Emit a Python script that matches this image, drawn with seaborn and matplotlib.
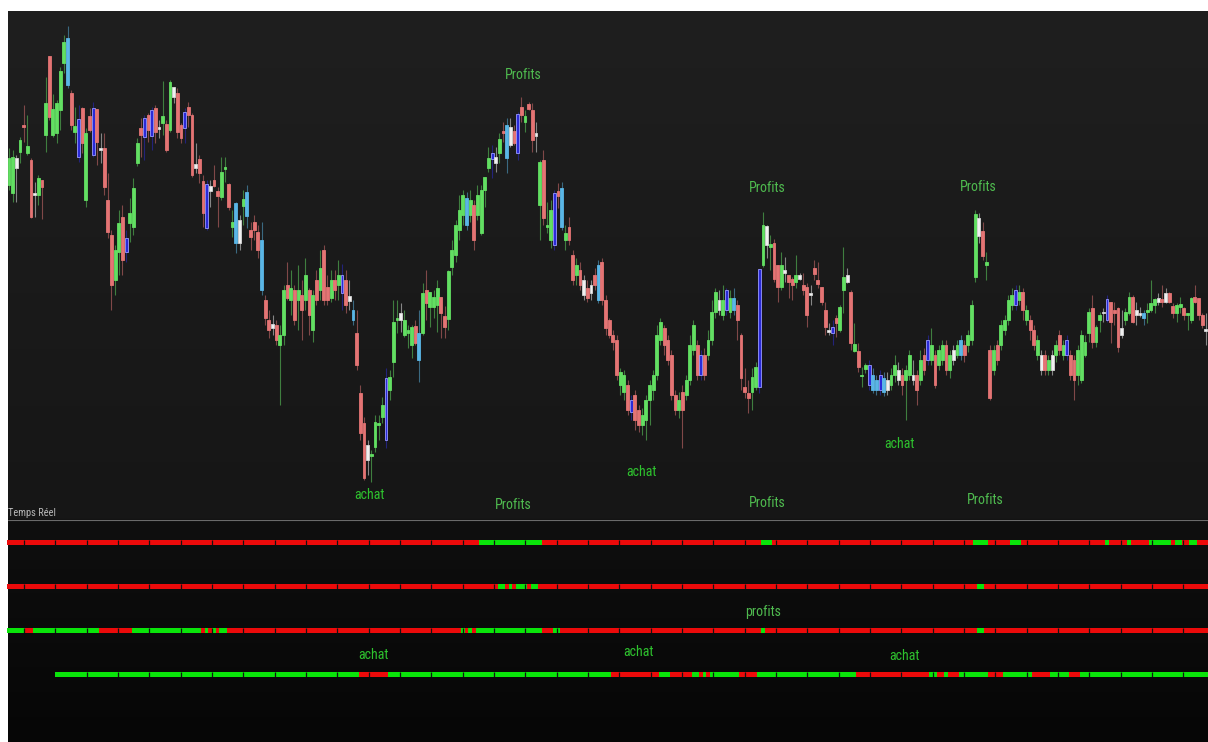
import numpy as np
import matplotlib
matplotlib.use("Agg")
import matplotlib.pyplot as plt
from matplotlib.colors import ListedColormap, to_rgb
from matplotlib.lines import Line2D
from matplotlib import font_manager
import seaborn as sns

# ---------------- data ----------------
opens = [
    335, 327, 362, 368, 395, 367, 360, 327, 325, 340,
    385, 464, 385, 387, 410, 457, 435, 427, 388, 363,
    412, 320, 404, 365, 411, 372, 372, 320, 285, 240,
    268, 303, 268, 297, 293, 357, 392, 383, 405, 384,
    412, 393, 397, 396, 390, 433, 427, 395, 392, 413,
    405, 356, 361, 339, 292, 334, 340, 329, 323, 351,
    336, 293, 277, 300, 314, 304, 290, 298, 288, 230,
    220, 200, 196, 195, 175, 185, 235, 220, 230, 220,
    225, 220, 230, 190, 240, 230, 270, 233, 222, 240,
    235, 227, 240, 224, 200, 187, 127, 97, 75, 64,
    73, 95, 103, 80, 130, 158, 200, 207, 185, 187,
    175, 194, 160, 187, 230, 213, 213, 215, 223, 204,
    201, 253, 265, 290, 305, 295, 305, 315, 305, 287,
    330, 352, 361, 363, 367, 389, 362, 393, 389, 367,
    413, 398, 416, 410, 387, 315, 360, 293, 280, 275,
    329, 293, 280, 293, 265, 245, 250, 240, 232, 235,
    245, 220, 258, 220, 200, 185, 180, 135, 128, 135,
    108, 125, 110, 95, 100, 120, 130, 145, 180, 192,
    180, 165, 125, 110, 128, 125, 140, 170, 175, 145,
    165, 165, 180, 208, 220, 205, 210, 208, 210, 215,
    185, 133, 127, 128, 133, 133, 255, 294, 273, 277,
    255, 233, 250, 245, 241, 238, 245, 235, 233, 227,
    252, 240, 233, 210, 190, 187, 202, 190, 230, 245,
    228, 169, 169, 144, 151, 135, 130, 130, 130, 128,
    140, 135, 145, 150, 145, 140, 145, 145, 145, 140,
    165, 160, 160, 165, 155, 160, 175, 150, 170, 165,
    165, 175, 175, 180, 243, 302, 289, 255, 170, 150,
    175, 175, 190, 200, 215, 215, 220, 228, 200, 200,
    190, 165, 165, 165, 150, 165, 165, 185, 165, 165,
    165, 160, 145, 140, 165, 187, 212, 178, 200, 208,
    200, 218, 210, 212, 192, 200, 207, 223, 210, 207,
    202, 208, 210, 215, 222, 221, 227, 227, 214, 207,
    213, 212, 205, 200, 223, 222, 205, 191,
]
highs = [
    372, 370, 365, 383, 415, 405, 362, 338, 345, 340,
    443, 464, 426, 420, 453, 485, 494, 430, 413, 415,
    413, 392, 412, 418, 411, 387, 387, 347, 290, 275,
    310, 315, 290, 322, 342, 382, 402, 405, 407, 413,
    415, 400, 439, 400, 440, 433, 432, 397, 412, 418,
    407, 377, 365, 345, 340, 340, 355, 333, 363, 363,
    337, 310, 318, 305, 330, 335, 298, 305, 295, 298,
    225, 210, 205, 200, 195, 235, 258, 250, 235, 255,
    240, 262, 232, 230, 250, 270, 275, 245, 250, 250,
    260, 256, 250, 240, 220, 210, 135, 103, 80, 70,
    105, 105, 123, 152, 150, 220, 220, 217, 210, 195,
    195, 200, 210, 237, 250, 228, 230, 240, 223, 214,
    250, 280, 300, 325, 330, 328, 330, 320, 335, 335,
    343, 373, 375, 373, 387, 398, 402, 402, 395, 408,
    423, 410, 418, 417, 398, 360, 370, 318, 320, 330,
    337, 338, 295, 303, 270, 262, 258, 245, 240, 240,
    252, 260, 262, 225, 202, 190, 185, 152, 150, 140,
    125, 130, 115, 112, 125, 140, 150, 195, 202, 195,
    185, 170, 130, 128, 135, 145, 185, 200, 180, 170,
    172, 190, 220, 232, 230, 235, 232, 230, 232, 220,
    187, 152, 140, 152, 158, 251, 308, 295, 285, 281,
    255, 268, 263, 245, 243, 265, 247, 247, 237, 235,
    260, 258, 233, 218, 197, 200, 205, 215, 273, 252,
    230, 197, 177, 153, 157, 160, 152, 145, 150, 148,
    148, 152, 165, 158, 152, 155, 170, 160, 150, 170,
    172, 185, 192, 170, 175, 180, 180, 170, 175, 180,
    185, 180, 190, 220, 310, 307, 298, 268, 175, 175,
    180, 200, 205, 225, 232, 235, 235, 232, 215, 205,
    195, 185, 170, 170, 165, 170, 180, 190, 180, 185,
    170, 165, 175, 190, 185, 212, 225, 195, 208, 212,
    225, 218, 218, 213, 210, 212, 228, 225, 218, 213,
    210, 217, 240, 222, 227, 235, 232, 228, 217, 217,
    223, 213, 207, 223, 235, 222, 207, 207,
]
lows = [
    330, 318, 318, 357, 378, 365, 302, 303, 315, 301,
    368, 400, 383, 377, 390, 447, 432, 390, 377, 358,
    367, 313, 388, 363, 355, 357, 325, 282, 210, 225,
    245, 245, 258, 278, 285, 354, 363, 360, 378, 370,
    377, 382, 385, 368, 388, 417, 382, 377, 377, 393,
    343, 347, 337, 293, 290, 313, 333, 293, 320, 338,
    310, 283, 267, 270, 295, 292, 270, 280, 262, 225,
    195, 182, 185, 175, 115, 175, 220, 205, 195, 190,
    180, 210, 185, 178, 215, 220, 215, 215, 218, 220,
    220, 210, 207, 210, 195, 150, 80, 40, 45, 38,
    68, 80, 97, 72, 120, 143, 187, 188, 183, 172,
    162, 175, 138, 185, 200, 193, 202, 188, 182, 182,
    190, 245, 258, 280, 295, 290, 298, 270, 300, 285,
    313, 348, 342, 348, 357, 378, 347, 373, 375, 360,
    398, 388, 410, 368, 368, 280, 295, 287, 272, 270,
    312, 290, 270, 275, 235, 235, 230, 220, 218, 220,
    230, 217, 215, 185, 182, 170, 140, 125, 120, 105,
    100, 90, 88, 85, 80, 95, 120, 140, 175, 165,
    155, 120, 105, 102, 72, 120, 135, 165, 140, 140,
    140, 160, 175, 202, 205, 200, 205, 202, 205, 180,
    130, 122, 107, 110, 130, 127, 253, 262, 250, 238,
    218, 230, 238, 222, 220, 232, 240, 225, 193, 215,
    240, 232, 215, 185, 185, 175, 183, 188, 207, 237,
    170, 168, 148, 133, 147, 130, 127, 125, 125, 124,
    125, 130, 138, 135, 125, 100, 140, 135, 115, 135,
    145, 155, 155, 132, 150, 155, 145, 142, 155, 162,
    160, 158, 168, 175, 238, 277, 260, 240, 120, 145,
    155, 170, 185, 195, 210, 210, 215, 200, 195, 180,
    170, 160, 145, 145, 145, 145, 158, 165, 160, 160,
    140, 120, 135, 137, 163, 178, 172, 173, 188, 198,
    198, 177, 195, 168, 182, 195, 205, 197, 195, 203,
    195, 197, 208, 207, 215, 213, 217, 217, 202, 198,
    207, 200, 190, 197, 217, 200, 192, 175,
]
closes = [
    362, 363, 352, 380, 393, 374, 303, 325, 342, 333,
    417, 403, 411, 417, 449, 478, 482, 395, 394, 401,
    377, 387, 390, 412, 378, 370, 333, 288, 235, 270,
    297, 260, 282, 307, 332, 377, 385, 402, 390, 410,
    388, 391, 404, 370, 438, 423, 388, 382, 408, 405,
    345, 352, 347, 307, 336, 329, 334, 324, 348, 353,
    313, 298, 317, 277, 321, 328, 283, 290, 270, 280,
    202, 190, 192, 180, 185, 230, 222, 232, 200, 230,
    210, 245, 205, 225, 220, 252, 220, 220, 240, 230,
    245, 245, 215, 219, 210, 155, 87, 42, 60, 66,
    98, 97, 115, 142, 143, 198, 202, 200, 200, 190,
    193, 177, 187, 227, 217, 228, 223, 232, 207, 193,
    249, 270, 295, 310, 325, 322, 320, 280, 325, 330,
    343, 362, 367, 357, 381, 387, 395, 375, 377, 406,
    405, 404, 411, 380, 384, 358, 302, 295, 310, 327,
    324, 332, 287, 280, 240, 255, 235, 225, 222, 227,
    235, 255, 220, 192, 185, 178, 145, 148, 145, 110,
    120, 100, 95, 105, 120, 135, 145, 185, 198, 175,
    160, 125, 110, 120, 110, 140, 175, 195, 145, 165,
    145, 180, 208, 228, 210, 220, 230, 222, 222, 200,
    142, 128, 122, 143, 153, 251, 295, 275, 276, 241,
    233, 255, 247, 238, 235, 245, 241, 230, 205, 225,
    246, 236, 218, 193, 188, 193, 197, 213, 243, 238,
    177, 176, 153, 145, 155, 155, 145, 140, 145, 142,
    130, 145, 155, 140, 135, 150, 165, 140, 130, 160,
    150, 180, 175, 135, 170, 175, 150, 165, 160, 175,
    180, 165, 185, 215, 306, 284, 264, 258, 122, 170,
    160, 195, 200, 220, 225, 230, 228, 210, 210, 190,
    175, 180, 150, 150, 160, 150, 175, 170, 175, 180,
    145, 140, 170, 185, 178, 208, 178, 193, 205, 207,
    221, 198, 207, 173, 185, 208, 223, 198, 205, 205,
    207, 210, 217, 221, 218, 218, 218, 218, 207, 215,
    216, 205, 207, 222, 218, 205, 195, 189,
]
# candle colour class: g=up, r=down, b=blue signal, c=light-blue signal, w=neutral
candle_type = list(
    "ggwgrgrwgr" "grggggcrgb" "rgrbrwrrrg" "grbgggrbrb" "rwgrgwrrbr"
    "rwrrbwrrgg" "rgcwgcrrrc" "rrwrggrgrg" "rgrgrgrrgr" "gbrwcrrrwg"
    "gggbgggwgg" "grcgrgggrr" "gggggcgrgg" "ggbwgrcwrb" "rgrrwgrggb"
    "rcgrrgrwrw" "rcrrrrrggr" "brrggggggr" "rrrgrgggrb" "rgggwgbgcr"
    "rrrggbgwgr" "rgwrrgwrrw" "rrrrwbrggw" "rgrggbccbc" "wggwrggwrg"
    "rbgrggrgwg" "crgggwrgrg" "rggggbgrgr" "rgwrgwgrgb" "rrggggrggw"
    "brrrwggrww" "cgggwrwrrg" "grggrrrw"
)

# indicator rows: run lengths of (state, number of bars); n = no value
row1_runs = [("r", 129), ("g", 17), ("r", 60), ("g", 3), ("r", 55), ("g", 4),
             ("r", 6), ("g", 3), ("r", 23), ("g", 1), ("r", 5), ("g", 1),
             ("r", 5), ("g", 6), ("r", 1), ("g", 2), ("r", 2), ("g", 2), ("r", 3)]
row2_runs = [("r", 134), ("g", 2), ("r", 1), ("g", 1), ("r", 1), ("g", 3),
             ("r", 1), ("g", 2), ("r", 120), ("g", 2), ("r", 61)]
row3_runs = [("g", 5), ("r", 2), ("g", 18), ("r", 9), ("g", 19), ("r", 1),
             ("g", 1), ("r", 1), ("g", 1), ("r", 1), ("g", 2), ("r", 64),
             ("g", 1), ("r", 1), ("g", 1), ("r", 1), ("g", 18), ("r", 3),
             ("g", 2), ("r", 55), ("g", 1), ("r", 58), ("g", 2), ("r", 61)]
row4_runs = [("n", 13), ("g", 83), ("r", 8), ("g", 61), ("r", 13), ("g", 3),
             ("r", 6), ("g", 2), ("r", 1), ("g", 1), ("r", 1), ("g", 8),
             ("r", 5), ("g", 27), ("r", 20), ("g", 2), ("r", 2), ("g", 1),
             ("r", 3), ("g", 8), ("r", 4), ("g", 8), ("r", 5), ("g", 5),
             ("r", 3), ("g", 35)]

# ---------------- style ----------------
sns.set_theme(style="dark")
installed = {f.name for f in font_manager.fontManager.ttflist}
narrow_candidates = ["Liberation Sans Narrow", "Roboto Condensed", "DejaVu Sans Condensed",
                     "Open Sans Condensed", "Noto Sans Condensed"]
fam = [f for f in narrow_candidates if f in installed] + ["Roboto", "DejaVu Sans"]
plt.rcParams["font.family"] = fam
txt_stretch = "condensed"

W, H = 1208, 742
fig = plt.figure(figsize=(W / 100, H / 100), dpi=100, facecolor="white")

# background gradient (top price panel, then indicator panel)
top_px, sep_px = 11, 519
bg = fig.add_axes([8 / W, 0, (W - 8) / W, (H - top_px) / H])
g_top = np.linspace(31, 22, sep_px - top_px)
g_bot = np.linspace(15, 6, H - sep_px)
g = np.concatenate([g_top, g_bot])[:, None, None] * np.ones((1, 1, 3)) / 255.0
bg.imshow(g, aspect="auto", extent=[0, 1, 0, 1], interpolation="bilinear")
bg.set_axis_off()

n = len(opens)
x = np.arange(n)
o = np.array(opens, float)
c = np.array(closes, float)
h = np.maximum(np.array(highs, float), np.maximum(o, c))
l = np.minimum(np.array(lows, float), np.minimum(o, c))

left_px, spacing = 7.17, 3.66
L = left_px / W
Wd = (spacing * n) / W

ax = fig.add_axes([L, (H - sep_px) / H, Wd, (sep_px - top_px) / H])
ax.set_facecolor((0, 0, 0, 0))
ax.set_xlim(-0.5, n - 0.5)
ax.set_ylim(1, 509)
ax.set_axis_off()

body_col = {"g": "#62df62", "r": "#e47474", "b": "#2a2ad8", "c": "#5ab6e6", "w": "#f0f0f0"}
edge_col = {"g": "#62df62", "r": "#e47474", "b": "#9a9aff", "c": "#5ab6e6", "w": "#d8d8d8"}
bgc = np.array([0.11, 0.11, 0.11])


def dim(col, a=0.5):
    return tuple(np.array(to_rgb(col)) * a + bgc * (1 - a))


wick_cols = [dim(body_col[t]) for t in candle_type]
ax.vlines(x, l, h, colors=wick_cols, linewidth=0.8, zorder=1)
heights = np.maximum(np.abs(c - o), 1.6)
bottoms = np.minimum(o, c) - (heights - np.abs(c - o)) / 2
ax.bar(x, heights, bottom=bottoms, width=0.78,
       color=[body_col[t] for t in candle_type],
       edgecolor=[edge_col[t] for t in candle_type], linewidth=0.6, zorder=2)

# separator line and label
fig.add_artist(Line2D([8 / W, 1], [1 - (sep_px + 0.5) / H] * 2, color="#6a6a6a", lw=0.8))
fig.text(8 / W, 1 - 513.5 / H, "Temps Réel", color="#b8b8b8", fontsize=7.5,
         ha="left", va="center", fontstretch=txt_stretch)

# indicator rows drawn as one-line heatmaps
row_centers = [542.7, 586.7, 630.3, 674.3]
row_h = 5.5
cmap = ListedColormap(["#ec0a0a", "#0ae40a"])
state_val = {"r": 0.0, "g": 1.0, "n": np.nan}
sep_positions = np.arange(24, W, 31.33)
for runs, yc in zip([row1_runs, row2_runs, row3_runs, row4_runs], row_centers):
    vals = np.concatenate([[state_val[s]] * k for s, k in runs])
    axr = fig.add_axes([L, (H - (yc + row_h / 2)) / H, Wd, row_h / H])
    axr.patch.set_alpha(0)
    sns.heatmap(vals[None, :], ax=axr, cmap=cmap, vmin=0, vmax=1, cbar=False,
                xticklabels=False, yticklabels=False)
    axr.patch.set_alpha(0)
    first_valid = np.argmax(~np.isnan(vals))
    sx = (sep_positions - left_px) / spacing
    sx = sx[sx > first_valid + 0.5]
    axr.vlines(sx, 0, 1, colors="#121212", linewidth=0.9)
    axr.set_axis_off()

# annotations
green_p = "#4fbb4f"
green_a = "#2ec22e"
labels = [
    ("Profits", 523, 75, green_p), ("Profits", 767, 188, green_p), ("Profits", 978, 187, green_p),
    ("achat", 369, 495, green_a), ("achat", 641, 472, green_a), ("achat", 899, 444, green_a),
    ("Profits", 513, 505, green_p), ("Profits", 767, 503, green_p), ("Profits", 985, 500, green_p),
    ("profits", 763, 612, green_p), ("achat", 373, 655, green_a), ("achat", 638, 652, green_a),
    ("achat", 904, 656, green_a),
]
for txt, px, py, col in labels:
    fig.text(px / W, 1 - py / H, txt, color=col, fontsize=10, ha="center", va="center",
             fontstretch=txt_stretch)

fig.savefig("out.png", dpi=100, facecolor="white")
